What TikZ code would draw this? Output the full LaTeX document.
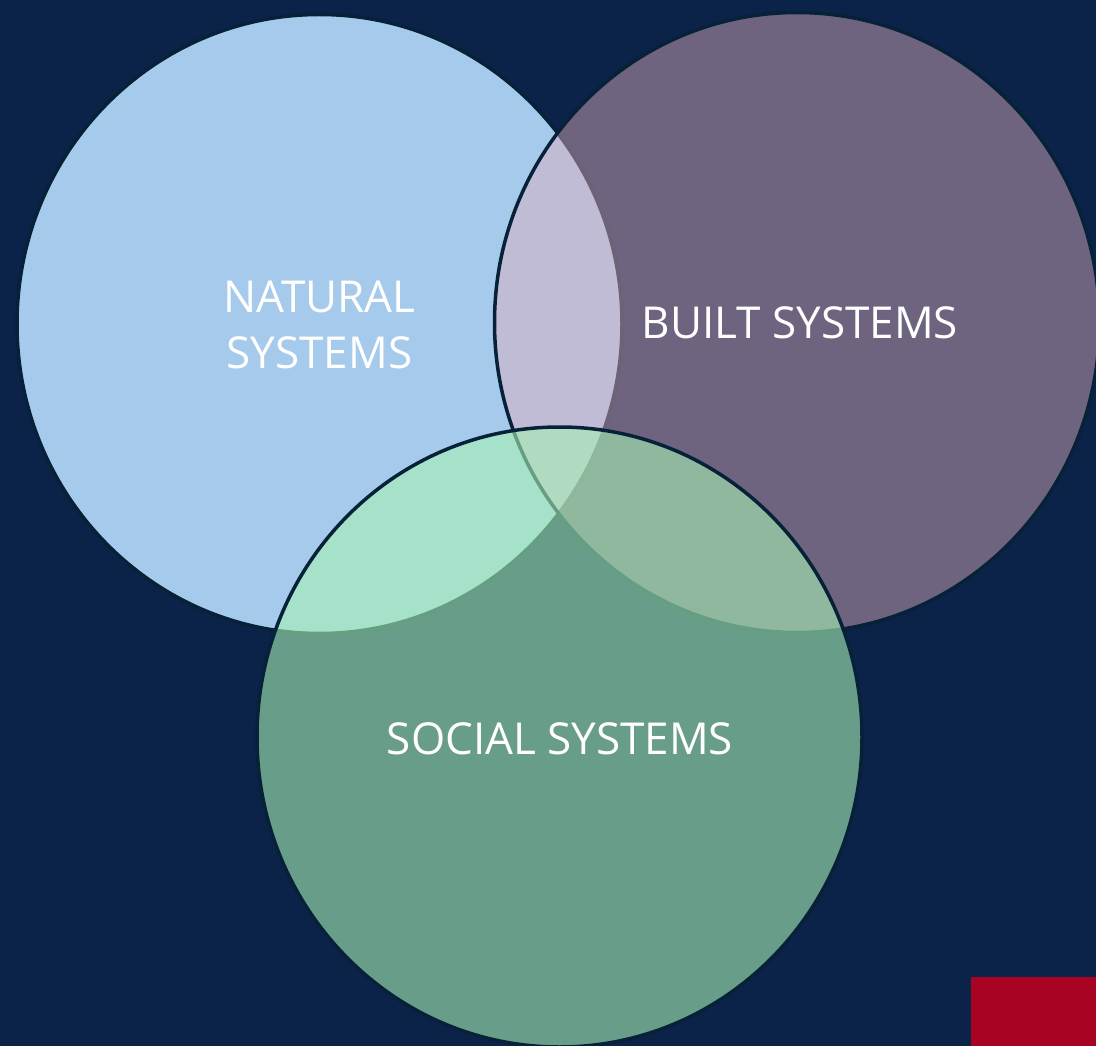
\documentclass[tikz,border=0pt]{standalone}
\usepackage{fontspec}
\setmainfont{Open Sans}
\definecolor{bg}{RGB}{11,35,73}
\definecolor{naturalc}{RGB}{166,202,236}
\definecolor{builtc}{RGB}{221,173,189}
\definecolor{socialc}{RGB}{166,241,180}
\definecolor{edgec}{RGB}{7,34,56}
\definecolor{redc}{RGB}{168,3,34}
\tikzset{
  venn/.style={draw=edgec, line width=3.5pt},
  lbl/.style={text=white, align=center, inner sep=0pt, font=\fontsize{44}{56}\selectfont}
}
\begin{document}
\begin{tikzpicture}[x=1pt,y=-1pt]
\fill[bg] (0,0) rectangle (1096,1046);
\useasboundingbox (0,0) rectangle (1096,1046);
\path[venn, fill=naturalc] (319.5,324) ellipse [x radius=302.5, y radius=309.5];
\path[venn, fill=builtc, fill opacity=0.475] (797,322.5) ellipse [x radius=302.5, y radius=310];
\path[venn, fill=socialc, fill opacity=0.6] (559.5,737) ellipse [x radius=302.5, y radius=310];
\fill[redc] (971,977) rectangle (1096,1046);
\node[lbl] (natural) at (319.5,325) {NATURAL\\SYSTEMS};
\node[lbl] (built) at (800,322.5) {BUILT SYSTEMS};
\node[lbl] (social) at (560,739) {SOCIAL SYSTEMS};
\end{tikzpicture}
\end{document}
